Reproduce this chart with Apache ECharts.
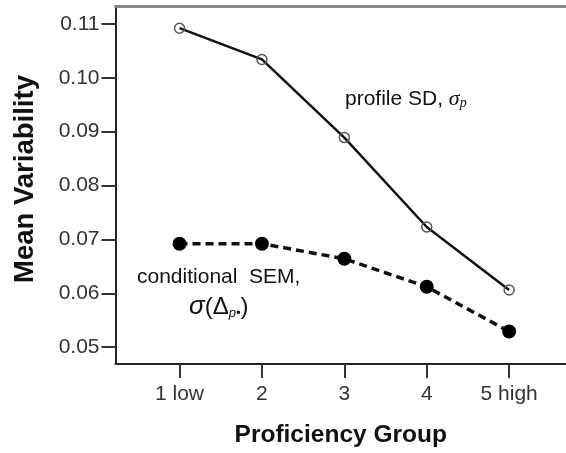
<!DOCTYPE html>
<html>
<head>
<meta charset="utf-8">
<script src="https://cdn.jsdelivr.net/npm/echarts@6/dist/echarts.min.js"></script>
<style>
html,body{margin:0;padding:0;background:#fff;}
#main{width:566px;height:453px;}
</style>
</head>
<body>
<div id="main"></div>
<script>
// data
var groups = ['1 low', '2', '3', '4', '5 high'];
var profileSD = [0.1092, 0.1034, 0.0889, 0.0723, 0.0606];
var condSEM = [0.0692, 0.0692, 0.0664, 0.0612, 0.0529];
var yTicks = [0.05, 0.06, 0.07, 0.08, 0.09, 0.10, 0.11];
var xTicks = [1, 2, 3, 4, 5];

var myChart = echarts.init(document.getElementById('main'));

function toPairs(vals){
	var out = [];
	for (var i = 0; i < vals.length; i++) {
		out.push([i + 1, vals[i]]);
	}
	return out;
}

var FONT = 'Liberation Sans';

var option = {
	backgroundColor: '#fff',
	animation: false,
	grid: {left: 115.5, top: 6, right: 0, bottom: 87},
	xAxis: [
		{
			type: 'value',
			min: 0.223,
			max: 5.69,
			splitLine: {show: false},
			axisLine: {lineStyle: {color: '#222', width: 2}},
			axisTick: {show: true, length: 14, customValues: xTicks, lineStyle: {color: '#333', width: 2}},
			axisLabel: {
				customValues: xTicks,
				margin: 20,
				color: '#333',
				fontFamily: FONT,
				fontSize: 21,
				formatter: function (v) { return groups[Math.round(v) - 1]; }
			},
			name: 'Proficiency Group',
			nameLocation: 'middle',
			nameGap: 59,
			nameTextStyle: {fontFamily: FONT, fontWeight: 'bold', fontSize: 24.5, color: '#111'}
		},
		{
			type: 'value',
			position: 'top',
			min: 0.223,
			max: 5.69,
			splitLine: {show: false},
			axisLine: {lineStyle: {color: '#888', width: 3}},
			axisTick: {show: false},
			axisLabel: {show: false}
		}
	],
	yAxis: {
		type: 'value',
		min: 0.04687,
		max: 0.11332,
		splitLine: {show: false},
		axisLine: {show: true, lineStyle: {color: '#222', width: 2}},
		axisTick: {show: true, length: 14, customValues: yTicks, lineStyle: {color: '#333', width: 2}},
		axisLabel: {
			customValues: yTicks,
			margin: 16,
			color: '#333',
			fontFamily: FONT,
			fontSize: 21,
			formatter: function (v) { return v.toFixed(2); }
		},
		name: 'Mean Variability',
		nameLocation: 'middle',
		nameGap: 76,
		nameTextStyle: {fontFamily: FONT, fontWeight: 'bold', fontSize: 27.5, color: '#111', padding: [0, 0, 0, 12]}
	},
	series: [
		{
			name: 'profile SD',
			type: 'line',
			data: toPairs(profileSD),
			symbol: 'circle',
			symbolSize: 10,
			lineStyle: {color: '#111', width: 2.5},
			itemStyle: {color: 'rgba(0,0,0,0)', borderColor: '#555', borderWidth: 1.5},
			z: 3
		},
		{
			name: 'conditional SEM',
			type: 'line',
			data: toPairs(condSEM),
			symbol: 'circle',
			symbolSize: 14,
			lineStyle: {color: '#111', width: 3.5, type: [8, 5]},
			itemStyle: {color: '#000'},
			z: 3
		}
	],
	graphic: [
		{
			type: 'text',
			left: 345,
			top: 88,
			style: {
				text: '{a|profile SD, }{s|σ}{p|p}',
				rich: {
					a: {fontFamily: FONT, fontSize: 21, fill: '#111'},
					s: {fontFamily: 'Liberation Serif', fontStyle: 'italic', fontSize: 22, fill: '#111'},
					p: {fontFamily: 'Liberation Serif', fontStyle: 'italic', fontSize: 14, fill: '#111', verticalAlign: 'bottom', padding: [8, 0, 0, 0]}
				}
			}
		},
		{
			type: 'text',
			left: 137,
			top: 267,
			style: {text: 'conditional  SEM,', fontFamily: FONT, fontSize: 21, fill: '#111'}
		},
		{
			type: 'text',
			left: 189,
			top: 294,
			style: {
				text: '{s|σ}{b|(Δ}{p|p•}{b|)}',
				rich: {
					s: {fontFamily: FONT, fontStyle: 'italic', fontSize: 26, fill: '#111'},
					b: {fontFamily: FONT, fontSize: 24, fill: '#111'},
					p: {fontFamily: FONT, fontStyle: 'italic', fontSize: 13, fill: '#111', padding: [12, 0, 0, 0]}
				}
			}
		}
	]
};

myChart.setOption(option);
</script>
</body>
</html>
